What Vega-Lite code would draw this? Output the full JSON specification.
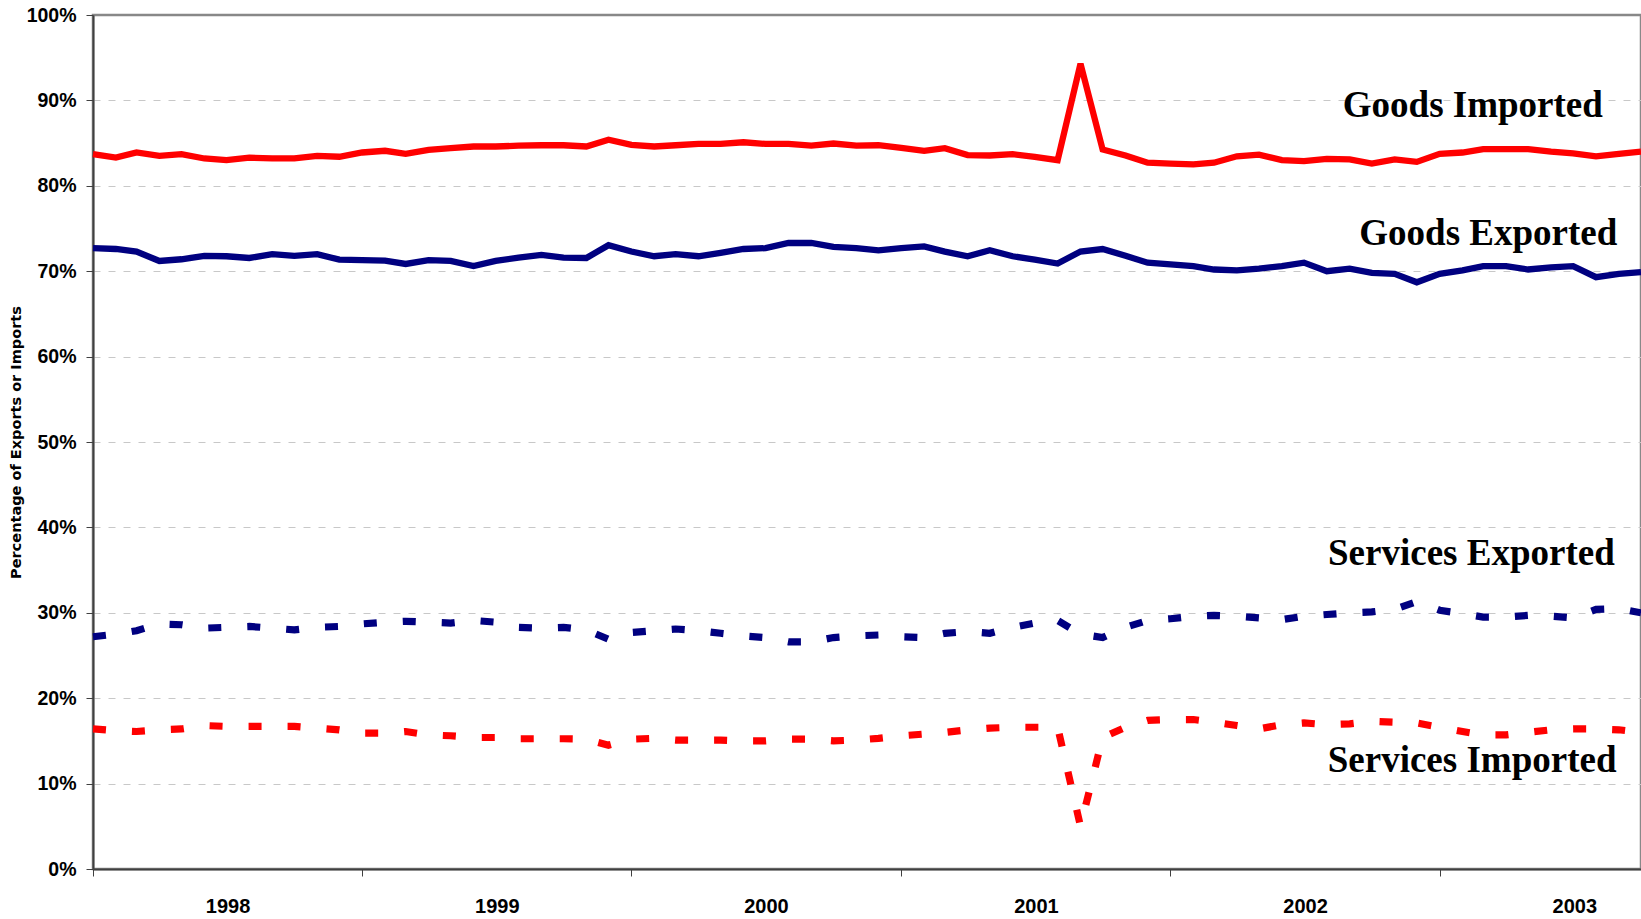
{
  "$schema": "https://vega.github.io/schema/vega-lite/v6.json",
  "width": 1548,
  "height": 854,
  "autosize": {"type": "none"},
  "padding": {"left": 93, "top": 15, "right": 0, "bottom": 50},
  "background": "white",
  "config": {"view": {"stroke": "#888888", "strokeWidth": 2.5}},
  "datasets": {
    "monthly": [
      {"date": "1998-01-01", "goodsImported": 83.7, "goodsExported": 72.7, "servicesExported": 27.2, "servicesImported": 16.4},
      {"date": "1998-02-01", "goodsImported": 83.3, "goodsExported": 72.6, "servicesExported": 27.5, "servicesImported": 16.2},
      {"date": "1998-03-01", "goodsImported": 83.9, "goodsExported": 72.3, "servicesExported": 27.9, "servicesImported": 16.1},
      {"date": "1998-04-01", "goodsImported": 83.5, "goodsExported": 71.2, "servicesExported": 28.7, "servicesImported": 16.3},
      {"date": "1998-05-01", "goodsImported": 83.7, "goodsExported": 71.4, "servicesExported": 28.6, "servicesImported": 16.4},
      {"date": "1998-06-01", "goodsImported": 83.2, "goodsExported": 71.8, "servicesExported": 28.2, "servicesImported": 16.8},
      {"date": "1998-07-01", "goodsImported": 83.0, "goodsExported": 71.75, "servicesExported": 28.3, "servicesImported": 16.7},
      {"date": "1998-08-01", "goodsImported": 83.3, "goodsExported": 71.55, "servicesExported": 28.4, "servicesImported": 16.7},
      {"date": "1998-09-01", "goodsImported": 83.2, "goodsExported": 72.0, "servicesExported": 28.2, "servicesImported": 16.7},
      {"date": "1998-10-01", "goodsImported": 83.2, "goodsExported": 71.8, "servicesExported": 28.0, "servicesImported": 16.7},
      {"date": "1998-11-01", "goodsImported": 83.5, "goodsExported": 72.0, "servicesExported": 28.3, "servicesImported": 16.5},
      {"date": "1998-12-01", "goodsImported": 83.4, "goodsExported": 71.35, "servicesExported": 28.4, "servicesImported": 16.3},
      {"date": "1999-01-01", "goodsImported": 83.9, "goodsExported": 71.3, "servicesExported": 28.7, "servicesImported": 15.9},
      {"date": "1999-02-01", "goodsImported": 84.1, "goodsExported": 71.25, "servicesExported": 28.9, "servicesImported": 15.9},
      {"date": "1999-03-01", "goodsImported": 83.75, "goodsExported": 70.85, "servicesExported": 29.0, "servicesImported": 16.1},
      {"date": "1999-04-01", "goodsImported": 84.2, "goodsExported": 71.3, "servicesExported": 28.9, "servicesImported": 15.7},
      {"date": "1999-05-01", "goodsImported": 84.4, "goodsExported": 71.2, "servicesExported": 28.8, "servicesImported": 15.6},
      {"date": "1999-06-01", "goodsImported": 84.6, "goodsExported": 70.6, "servicesExported": 29.1, "servicesImported": 15.4},
      {"date": "1999-07-01", "goodsImported": 84.6, "goodsExported": 71.2, "servicesExported": 28.9, "servicesImported": 15.4},
      {"date": "1999-08-01", "goodsImported": 84.7, "goodsExported": 71.6, "servicesExported": 28.3, "servicesImported": 15.25},
      {"date": "1999-09-01", "goodsImported": 84.75, "goodsExported": 71.9, "servicesExported": 28.2, "servicesImported": 15.25},
      {"date": "1999-10-01", "goodsImported": 84.75, "goodsExported": 71.6, "servicesExported": 28.3, "servicesImported": 15.25},
      {"date": "1999-11-01", "goodsImported": 84.6, "goodsExported": 71.55, "servicesExported": 28.0, "servicesImported": 15.2},
      {"date": "1999-12-01", "goodsImported": 85.4, "goodsExported": 73.05, "servicesExported": 26.9, "servicesImported": 14.5},
      {"date": "2000-01-01", "goodsImported": 84.8, "goodsExported": 72.3, "servicesExported": 27.7, "servicesImported": 15.2},
      {"date": "2000-02-01", "goodsImported": 84.6, "goodsExported": 71.75, "servicesExported": 27.9, "servicesImported": 15.3},
      {"date": "2000-03-01", "goodsImported": 84.75, "goodsExported": 72.0, "servicesExported": 28.1, "servicesImported": 15.1},
      {"date": "2000-04-01", "goodsImported": 84.9, "goodsExported": 71.75, "servicesExported": 27.9, "servicesImported": 15.1},
      {"date": "2000-05-01", "goodsImported": 84.9, "goodsExported": 72.15, "servicesExported": 27.6, "servicesImported": 15.1},
      {"date": "2000-06-01", "goodsImported": 85.1, "goodsExported": 72.6, "servicesExported": 27.3, "servicesImported": 15.0},
      {"date": "2000-07-01", "goodsImported": 84.9, "goodsExported": 72.7, "servicesExported": 27.1, "servicesImported": 15.0},
      {"date": "2000-08-01", "goodsImported": 84.9, "goodsExported": 73.3, "servicesExported": 26.6, "servicesImported": 15.2},
      {"date": "2000-09-01", "goodsImported": 84.7, "goodsExported": 73.3, "servicesExported": 26.6, "servicesImported": 15.2},
      {"date": "2000-10-01", "goodsImported": 84.95, "goodsExported": 72.85, "servicesExported": 27.1, "servicesImported": 15.0},
      {"date": "2000-11-01", "goodsImported": 84.7, "goodsExported": 72.7, "servicesExported": 27.3, "servicesImported": 15.1},
      {"date": "2000-12-01", "goodsImported": 84.75, "goodsExported": 72.45, "servicesExported": 27.4, "servicesImported": 15.3},
      {"date": "2001-01-01", "goodsImported": 84.45, "goodsExported": 72.7, "servicesExported": 27.2, "servicesImported": 15.6},
      {"date": "2001-02-01", "goodsImported": 84.1, "goodsExported": 72.9, "servicesExported": 27.1, "servicesImported": 15.8},
      {"date": "2001-03-01", "goodsImported": 84.4, "goodsExported": 72.3, "servicesExported": 27.6, "servicesImported": 16.0},
      {"date": "2001-04-01", "goodsImported": 83.6, "goodsExported": 71.75, "servicesExported": 27.8, "servicesImported": 16.3},
      {"date": "2001-05-01", "goodsImported": 83.55, "goodsExported": 72.45, "servicesExported": 27.6, "servicesImported": 16.5},
      {"date": "2001-06-01", "goodsImported": 83.7, "goodsExported": 71.75, "servicesExported": 28.3, "servicesImported": 16.6},
      {"date": "2001-07-01", "goodsImported": 83.4, "goodsExported": 71.35, "servicesExported": 28.8, "servicesImported": 16.6},
      {"date": "2001-08-01", "goodsImported": 83.0, "goodsExported": 70.9, "servicesExported": 29.1, "servicesImported": 16.6},
      {"date": "2001-09-01", "goodsImported": 94.3, "goodsExported": 72.3, "servicesExported": 27.5, "servicesImported": 5.0},
      {"date": "2001-10-01", "goodsImported": 84.25, "goodsExported": 72.6, "servicesExported": 27.1, "servicesImported": 15.4},
      {"date": "2001-11-01", "goodsImported": 83.55, "goodsExported": 71.8, "servicesExported": 28.3, "servicesImported": 16.6},
      {"date": "2001-12-01", "goodsImported": 82.7, "goodsExported": 71.0, "servicesExported": 29.1, "servicesImported": 17.4},
      {"date": "2002-01-01", "goodsImported": 82.6, "goodsExported": 70.8, "servicesExported": 29.3, "servicesImported": 17.5},
      {"date": "2002-02-01", "goodsImported": 82.5, "goodsExported": 70.6, "servicesExported": 29.6, "servicesImported": 17.5},
      {"date": "2002-03-01", "goodsImported": 82.7, "goodsExported": 70.2, "servicesExported": 29.7, "servicesImported": 17.2},
      {"date": "2002-04-01", "goodsImported": 83.45, "goodsExported": 70.1, "servicesExported": 29.6, "servicesImported": 16.8},
      {"date": "2002-05-01", "goodsImported": 83.65, "goodsExported": 70.3, "servicesExported": 29.4, "servicesImported": 16.4},
      {"date": "2002-06-01", "goodsImported": 83.0, "goodsExported": 70.6, "servicesExported": 29.2, "servicesImported": 16.9},
      {"date": "2002-07-01", "goodsImported": 82.9, "goodsExported": 71.0, "servicesExported": 29.6, "servicesImported": 17.1},
      {"date": "2002-08-01", "goodsImported": 83.15, "goodsExported": 70.0, "servicesExported": 29.8, "servicesImported": 16.9},
      {"date": "2002-09-01", "goodsImported": 83.1, "goodsExported": 70.3, "servicesExported": 30.0, "servicesImported": 17.0},
      {"date": "2002-10-01", "goodsImported": 82.6, "goodsExported": 69.8, "servicesExported": 30.1, "servicesImported": 17.3},
      {"date": "2002-11-01", "goodsImported": 83.1, "goodsExported": 69.7, "servicesExported": 30.4, "servicesImported": 17.2},
      {"date": "2002-12-01", "goodsImported": 82.8, "goodsExported": 68.7, "servicesExported": 31.3, "servicesImported": 17.1},
      {"date": "2003-01-01", "goodsImported": 83.75, "goodsExported": 69.7, "servicesExported": 30.3, "servicesImported": 16.6},
      {"date": "2003-02-01", "goodsImported": 83.9, "goodsExported": 70.1, "servicesExported": 29.9, "servicesImported": 16.1},
      {"date": "2003-03-01", "goodsImported": 84.3, "goodsExported": 70.6, "servicesExported": 29.5, "servicesImported": 15.7},
      {"date": "2003-04-01", "goodsImported": 84.3, "goodsExported": 70.6, "servicesExported": 29.5, "servicesImported": 15.7},
      {"date": "2003-05-01", "goodsImported": 84.3, "goodsExported": 70.2, "servicesExported": 29.7, "servicesImported": 16.0},
      {"date": "2003-06-01", "goodsImported": 84.0, "goodsExported": 70.45, "servicesExported": 29.6, "servicesImported": 16.3},
      {"date": "2003-07-01", "goodsImported": 83.8, "goodsExported": 70.6, "servicesExported": 29.4, "servicesImported": 16.4},
      {"date": "2003-08-01", "goodsImported": 83.45, "goodsExported": 69.3, "servicesExported": 30.4, "servicesImported": 16.4},
      {"date": "2003-09-01", "goodsImported": 83.75, "goodsExported": 69.7, "servicesExported": 30.5, "servicesImported": 16.3},
      {"date": "2003-10-01", "goodsImported": 84.0, "goodsExported": 69.9, "servicesExported": 30.0, "servicesImported": 16.0}
    ],
    "labels": [
      {"date": "2003-02-15", "value": 88.1, "label": "Goods Imported"},
      {"date": "2003-03-08", "value": 73.1, "label": "Goods Exported"},
      {"date": "2003-02-13", "value": 35.6, "label": "Services Exported"},
      {"date": "2003-02-14", "value": 11.3, "label": "Services Imported"}
    ]
  },
  "encoding": {
    "x": {
      "field": "date",
      "type": "temporal",
      "scale": {
        "type": "utc",
        "domain": [
          {"year": 1998, "month": 1, "date": 1, "utc": true},
          {"year": 2003, "month": 10, "date": 1, "utc": true}
        ]
      },
      "axis": {
        "title": null,
        "values": [
          {"year": 1998, "month": 1, "date": 1, "utc": true},
          {"year": 1999, "month": 1, "date": 1, "utc": true},
          {"year": 2000, "month": 1, "date": 1, "utc": true},
          {"year": 2001, "month": 1, "date": 1, "utc": true},
          {"year": 2002, "month": 1, "date": 1, "utc": true},
          {"year": 2003, "month": 1, "date": 1, "utc": true}
        ],
        "labelExpr": "utcFormat(datum.value, '%Y')",
        "labelOffset": 134.6,
        "labelFlush": false,
        "labelOverlap": false,
        "labelBound": false,
        "labelFont": "Liberation Sans",
        "labelFontWeight": "bold",
        "labelFontSize": 20,
        "labelColor": "#000000",
        "labelPadding": 20,
        "tickSize": 7,
        "tickColor": "#404040",
        "tickWidth": 1,
        "domainColor": "#404040",
        "domainWidth": 2,
        "grid": false
      }
    },
    "y": {
      "field": "value",
      "type": "quantitative",
      "scale": {"domain": [0, 100], "nice": false},
      "axis": {
        "title": "Percentage of Exports or Imports",
        "values": [0, 10, 20, 30, 40, 50, 60, 70, 80, 90, 100],
        "labelExpr": "datum.value + '%'",
        "labelFont": "Liberation Sans",
        "labelFontWeight": "bold",
        "labelFontSize": 19.5,
        "labelColor": "#000000",
        "labelPadding": 10,
        "tickSize": 7,
        "tickColor": "#404040",
        "tickWidth": 1,
        "domainColor": "#404040",
        "domainWidth": 2,
        "grid": true,
        "gridColor": "#c8c8c8",
        "gridDash": [7, 8],
        "gridWidth": 1,
        "gridOpacity": {"condition": {"test": "datum.value === 0 || datum.value === 100", "value": 0}, "value": 1},
        "titleFont": "DejaVu Sans",
        "titleFontWeight": "bold",
        "titleFontSize": 14.5,
        "titleColor": "#000000",
        "titlePadding": 3
      }
    }
  },
  "layer": [
    {
      "data": {"name": "monthly"},
      "transform": [
        {"fold": ["goodsImported", "goodsExported", "servicesExported", "servicesImported"], "as": ["series", "value"]},
        {"filter": {"field": "series", "oneOf": ["goodsImported", "goodsExported"]}}
      ],
      "mark": {"type": "line", "strokeWidth": 6.3, "strokeJoin": "miter", "strokeCap": "butt"},
      "encoding": {
        "color": {
          "field": "series",
          "type": "nominal",
          "scale": {"domain": ["goodsImported", "goodsExported", "servicesExported", "servicesImported"], "range": ["#ff0000", "#000080", "#000080", "#ff0000"]},
          "legend": null
        }
      }
    },
    {
      "data": {"name": "monthly"},
      "transform": [
        {"fold": ["goodsImported", "goodsExported", "servicesExported", "servicesImported"], "as": ["series", "value"]},
        {"filter": {"field": "series", "oneOf": ["servicesExported", "servicesImported"]}}
      ],
      "mark": {"type": "line", "strokeWidth": 7.2, "strokeDash": [13, 26], "strokeJoin": "miter", "strokeCap": "butt"},
      "encoding": {
        "color": {
          "field": "series",
          "type": "nominal",
          "scale": {"domain": ["goodsImported", "goodsExported", "servicesExported", "servicesImported"], "range": ["#ff0000", "#000080", "#000080", "#ff0000"]},
          "legend": null
        }
      }
    },
    {
      "data": {"name": "labels"},
      "mark": {"type": "text", "font": "Liberation Serif", "fontWeight": "bold", "fontSize": 37, "align": "center", "baseline": "alphabetic", "color": "#000000"},
      "encoding": {"text": {"field": "label", "type": "nominal"}}
    }
  ]
}
